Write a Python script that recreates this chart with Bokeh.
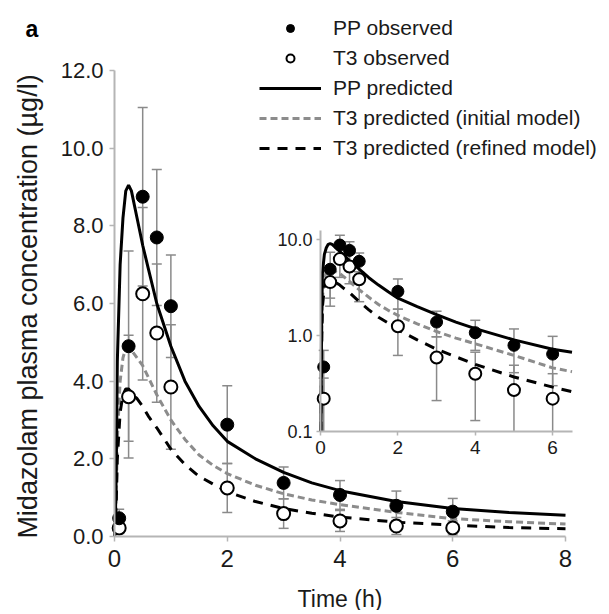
import numpy as np
from bokeh.plotting import figure
from bokeh.models import (Range1d, FixedTicker, PrintfTickFormatter, Legend, LegendItem,
                          Label, LinearAxis, LogAxis, LogScale, Grid)
from bokeh.embed import file_html
from bokeh.resources import INLINE

# ---------------- data ----------------
obs_time = [0.083, 0.25, 0.5, 0.75, 1.0, 2.0, 3.0, 4.0, 5.0, 6.0]
pp_obs = [0.47, 4.9, 8.75, 7.7, 5.93, 2.88, 1.38, 1.07, 0.79, 0.64]
pp_sd = [0.23, 2.45, 2.3, 1.75, 1.32, 1.0, 0.41, 0.37, 0.38, 0.34]
t3_obs = [0.22, 3.6, 6.25, 5.24, 3.85, 1.25, 0.59, 0.40, 0.27, 0.22]
t3_sd = [0.14, 1.58, 2.22, 1.78, 1.6, 0.63, 0.38, 0.27, 0.22, 0.18]

pred_time = [0, 0.01, 0.03, 0.05, 0.1, 0.15, 0.2, 0.25, 0.3, 0.4, 0.5, 0.6, 0.75,
             1.0, 1.25, 1.5, 1.75, 2.0, 2.5, 3.0, 3.5, 4.0, 5.0, 6.0, 6.5, 7.0, 8.0]
pp_pred = [0, 0.1, 1.5, 4.5, 7.0, 8.2, 8.9, 9.05, 8.9, 8.2, 7.5, 6.9, 6.0,
           4.9, 4.0, 3.35, 2.85, 2.45, 2.0, 1.65, 1.38, 1.18, 0.9, 0.72, 0.67, 0.62, 0.55]
t3_init = [0, 0.1, 1.0, 2.5, 4.0, 4.6, 4.85, 4.85, 4.8, 4.6, 4.4, 4.1, 3.65,
           3.0, 2.5, 2.1, 1.83, 1.62, 1.32, 1.1, 0.94, 0.82, 0.62, 0.46, 0.42, 0.38, 0.32]
t3_ref = [0, 0.1, 0.8, 2.0, 3.2, 3.65, 3.8, 3.8, 3.7, 3.55, 3.35, 3.1, 2.8,
          2.25, 1.85, 1.55, 1.35, 1.15, 0.9, 0.72, 0.6, 0.5, 0.37, 0.29, 0.26, 0.23, 0.2]

main_y_ticks = [0, 2, 4, 6, 8, 10, 12]
main_x_ticks = [0, 2, 4, 6, 8]
inset_y_ticks = [0.1, 1, 10]
inset_x_ticks = [0, 2, 4, 6]

FONT = "Liberation Sans"
GRAY_AX = "#b5b5b5"
GRAY_ERR = "#8a8a8a"
GRAY_LINE = "#8c8c8c"
TXT = "#1a1a1a"

t_obs = np.array(obs_time)
pp = np.array(pp_obs); pps = np.array(pp_sd)
t3 = np.array(t3_obs); t3s = np.array(t3_sd)

# ---------------- geometry (canvas px, origin top-left) ----------------
W, H = 605, 610
# main axes: x=0 -> 114, x=8 -> 565 ; y=12 -> 70, y=0 -> 536
M_XL, M_XR, M_YT, M_YB = 114, 565, 70, 536
kx = (M_XR - M_XL) / 8.0
ky = (M_YB - M_YT) / 12.0
xr = Range1d(0 - M_XL / kx, 8 + (W - M_XR) / kx)
yr = Range1d(0 - (H - M_YB) / ky, 12 + M_YT / ky)
# inset axes: x=0 -> 320, x=6.5 -> 571.5 ; y=10 -> 239, y=0.1 -> 431 (log)
I_XL, I_XR, I_Y10, I_Y01 = 320, 571.5, 239, 431
I_XMAX = 6.5
ikx = (I_XR - I_XL) / I_XMAX
dec = (I_Y01 - I_Y10) / 2.0
ixr = Range1d(0 - I_XL / ikx, I_XMAX + (W - I_XR) / ikx)
iyr = Range1d(10 ** (-1 - (H - I_Y01) / dec), 10 ** (1 + I_Y10 / dec))

p = figure(width=W, height=H, x_range=xr, y_range=yr,
           x_axis_location=None, y_axis_location=None,
           output_backend="svg", toolbar_location=None,
           min_border_left=0, min_border_right=0, min_border_top=0, min_border_bottom=0)
p.border_fill_color = "white"
p.background_fill_color = "white"
p.outline_line_color = None
for g in p.select(type=Grid):
    g.visible = False
p.extra_x_ranges = {"ix": ixr}
p.extra_y_ranges = {"iy": iyr}
p.extra_y_scales = {"iy": LogScale()}


def style_axis(ax, size, tick_out, standoff):
    ax.axis_line_color = GRAY_AX
    ax.axis_line_width = 2
    ax.major_tick_line_color = GRAY_AX
    ax.major_tick_line_width = 1.5
    ax.major_tick_out = tick_out
    ax.major_tick_in = 0
    ax.minor_tick_line_color = None
    ax.major_label_text_font = FONT
    ax.major_label_text_font_size = size
    ax.major_label_text_color = TXT
    ax.major_label_standoff = standoff
    ax.axis_label_standoff = 0


# main axes
mx = LinearAxis(fixed_location=0, bounds=(0, 8), ticker=FixedTicker(ticks=main_x_ticks))
style_axis(mx, "24px", 5, 8)
my = LinearAxis(fixed_location=0, bounds=(0, 12), ticker=FixedTicker(ticks=main_y_ticks),
                formatter=PrintfTickFormatter(format="%.1f"))
style_axis(my, "22px", 5, 6)
p.add_layout(mx, "below")
p.add_layout(my, "left")

# inset axes
ix = LinearAxis(x_range_name="ix", y_range_name="iy", fixed_location=0.1,
                bounds=(0, I_XMAX), ticker=FixedTicker(ticks=inset_x_ticks))
style_axis(ix, "19px", 4, 5)
iy = LogAxis(x_range_name="ix", y_range_name="iy", fixed_location=0,
             bounds=(0.1, 12.5), ticker=FixedTicker(ticks=inset_y_ticks),
             formatter=PrintfTickFormatter(format="%.1f"))
style_axis(iy, "18px", 4, 4)
p.add_layout(ix, "below")
p.add_layout(iy, "left")


def draw_data(fig, log=False, msize=13):
    kw = dict(x_range_name="ix", y_range_name="iy") if log else {}
    lo_pp = pp - pps
    lo_t3 = t3 - t3s
    for lo, hi in ((lo_pp, pp + pps), (lo_t3, t3 + t3s)):
        if log:
            keep = lo >= 0.1
            lo_bar = np.maximum(lo, 0.1)
        else:
            keep = np.ones(len(lo), dtype=bool)
            lo_bar = lo
        fig.segment(x0=t_obs, y0=lo_bar, x1=t_obs, y1=hi, line_color=GRAY_ERR, line_width=1.5, **kw)
        fig.scatter(x=t_obs, y=hi, marker="dash", size=10, line_color=GRAY_ERR, line_width=1.5, **kw)
        fig.scatter(x=t_obs[keep], y=lo[keep], marker="dash", size=10, line_color=GRAY_ERR,
                    line_width=1.5, **kw)
    tp = np.array(pred_time)
    a = np.array(pp_pred); b = np.array(t3_init); c = np.array(t3_ref)
    if log:
        m = (tp > 0) & (tp <= I_XMAX)
        tp, a, b, c = tp[m], a[m], b[m], c[m]
    r_init = fig.line(tp, b, line_color=GRAY_LINE, line_width=3, line_dash="7 4", **kw)
    r_ref = fig.line(tp, c, line_color="black", line_width=3, line_dash="10 8", **kw)
    r_pp = fig.line(tp, a, line_color="black", line_width=3, **kw)
    r_t3o = fig.scatter(t_obs, t3, marker="circle", size=msize, fill_color="white",
                        line_color="black", line_width=2, **kw)
    r_ppo = fig.scatter(t_obs, pp, marker="circle", size=msize, fill_color="black",
                        line_color="black", **kw)
    return r_ppo, r_t3o, r_pp, r_init, r_ref


r_ppo, r_t3o, r_pp, r_init, r_ref = draw_data(p, log=False, msize=13)
draw_data(p, log=True, msize=12)

# axis titles and panel letter
p.add_layout(Label(x=27, y=H - 306, x_units="screen", y_units="screen",
                   text="Midazolam plasma concentration (\u00b5g/l)", angle=np.pi / 2,
                   text_align="center", text_baseline="middle",
                   text_font=FONT, text_font_size="27px", text_color=TXT))
p.add_layout(Label(x=(M_XL + M_XR) / 2, y=H - 598, x_units="screen", y_units="screen",
                   text="Time (h)", text_align="center", text_baseline="middle",
                   text_font=FONT, text_font_size="23px", text_color=TXT))
p.add_layout(Label(x=25, y=H - 28, x_units="screen", y_units="screen", text="a",
                   text_font=FONT, text_font_size="23px", text_font_style="bold",
                   text_baseline="alphabetic", text_color="black"))

legend = Legend(items=[
    LegendItem(label="PP observed", renderers=[r_ppo]),
    LegendItem(label="T3 observed", renderers=[r_t3o]),
    LegendItem(label="PP predicted", renderers=[r_pp]),
    LegendItem(label="T3 predicted (initial model)", renderers=[r_init]),
    LegendItem(label="T3 predicted (refined model)", renderers=[r_ref]),
], location=(259, H - 161))
legend.label_text_font = FONT
legend.label_text_font_size = "21px"
legend.label_text_color = TXT
legend.glyph_width = 62
legend.glyph_height = 20
legend.label_height = 26
legend.spacing = 4
legend.padding = 0
legend.margin = 0
legend.label_standoff = 12
legend.border_line_color = None
legend.background_fill_alpha = 0
p.add_layout(legend)

open("out.html", "w").write(file_html(p, INLINE))
